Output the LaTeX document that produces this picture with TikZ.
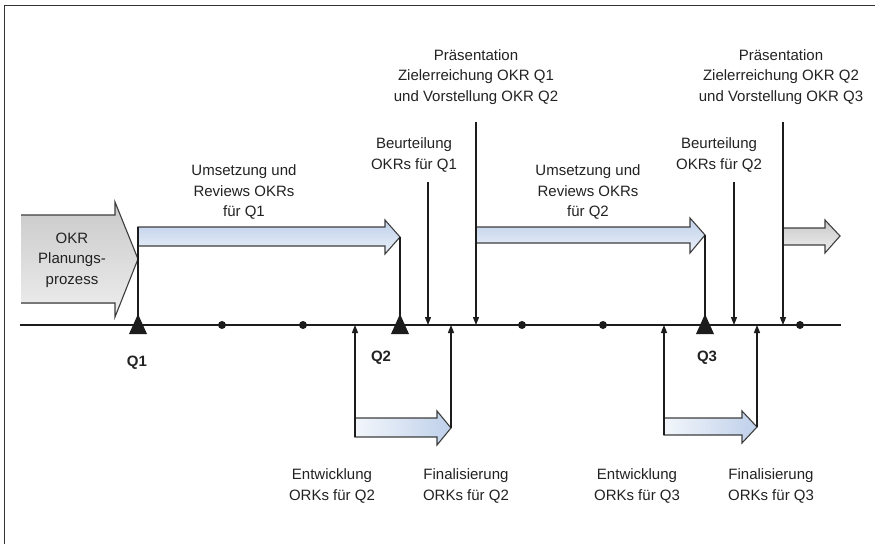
\documentclass[tikz,border=0pt]{standalone}
\usepackage{fontspec}
\setmainfont{Liberation Sans}
\usetikzlibrary{arrows.meta}

\definecolor{ink}{HTML}{1C1C1C}
\definecolor{txt}{HTML}{222222}
\definecolor{blueDark}{HTML}{BFD0EA}
\definecolor{blueLight}{HTML}{EAF0F8}
\definecolor{grayDark}{HTML}{C9C9C9}
\definecolor{grayLight}{HTML}{EEEEEE}

\tikzset{
  lbl/.style={align=center, font=\fontsize{15}{20.5}\selectfont, text=txt, inner sep=0pt},
  qlbl/.style={font=\bfseries\fontsize{15}{18}\selectfont, text=txt, inner sep=0pt},
  pin/.style={draw=ink, line width=1.2pt, -{Triangle[length=8pt,width=6pt]}},
  stem/.style={draw=ink, line width=1.2pt},
  outline/.style={draw=ink!85, line width=1.1pt, line join=miter},
  bluefat/.style={outline, top color=blueDark, bottom color=blueLight},
  bluefatside/.style={outline, left color=blueLight!60!white, right color=blueDark},
  grayfat/.style={outline, top color=grayDark, bottom color=grayLight},
  mile/.style={fill=ink},
  dot/.style={fill=ink},
}

\begin{document}
\begin{tikzpicture}[x=1pt,y=-1pt]
  \useasboundingbox (0,0) rectangle (875,544);
  \fill[white] (0,0) rectangle (875,544);

  % frame
  \draw[ink!90, line width=1.4pt] (4.5,544) -- (4.5,5.5) -- (875,5.5);

  % points on the time axis
  \coordinate (tl0) at (20,325);
  \coordinate (tl1) at (841,325);
  \coordinate (q1) at (138,325);
  \coordinate (q2) at (400,325);
  \coordinate (q3) at (705,325);
  \coordinate (b1) at (428,325);
  \coordinate (p1) at (476,325);
  \coordinate (b2) at (734,325);
  \coordinate (p2) at (783,325);
  \coordinate (e2) at (355,325);
  \coordinate (f2) at (451,325);
  \coordinate (e3) at (664,325);
  \coordinate (f3) at (757,325);

  % planning phase (open at the left)
  \fill[top color=grayDark, bottom color=grayLight]
    (21,215) -- (115,215) -- (115,202) -- (138,259) -- (115,317) -- (115,303) -- (21,303) -- cycle;
  \draw[outline] (21,215) -- (115,215) -- (115,202) -- (138,259) -- (115,317) -- (115,303) -- (21,303);
  \node[lbl] (plan) at (72,260) {OKR\\Planungs-\\prozess};

  % implementation arrows
  \path[bluefat] (138,227) -- (385,227) -- (385,220) coordinate (u1h) -- (400,237) coordinate (u1tip)
    -- (385,254) -- (385,246) -- (138,246) -- cycle;
  \coordinate (u1tail) at (138,227);
  \path[bluefat] (476,227) -- (690,227) -- (690,218) -- (705,235) coordinate (u2tip)
    -- (690,253) -- (690,243) -- (476,243) -- cycle;
  \path[grayfat] (783,228) -- (825,228) -- (825,220) -- (840,236) coordinate (u3tip)
    -- (825,253) -- (825,245) -- (783,245) -- cycle;

  % development arrows below the axis
  \path[bluefatside] (355,418) -- (437,418) -- (437,411) -- (451,428) coordinate (d2tip)
    -- (437,445) -- (437,437) -- (355,437) coordinate (d2tail) -- cycle;
  \path[bluefatside] (664,418) -- (742,418) -- (742,411) -- (757,427) coordinate (d3tip)
    -- (742,443) -- (742,435) -- (664,435) coordinate (d3tail) -- cycle;

  % time axis
  \draw[ink, line width=2pt] (tl0) -- (tl1);

  % connectors
  \draw[stem] (u1tail) -- (q1);
  \draw[stem] (u1tip) -- (q2);
  \draw[stem] (u2tip) -- (q3);
  \coordinate (b1top) at (428,182);
  \coordinate (p1top) at (476,122);
  \coordinate (b2top) at (734,182);
  \coordinate (p2top) at (783,122);
  \draw[pin] (b1top) -- (b1);
  \draw[pin] (p1top) -- (p1);
  \draw[pin] (b2top) -- (b2);
  \draw[pin] (p2top) -- (p2);
  \draw[pin] (d2tail) -- (e2);
  \draw[pin] (d2tip) -- (f2);
  \draw[pin] (d3tail) -- (e3);
  \draw[pin] (d3tip) -- (f3);

  % milestones
  \foreach \q in {q1,q2,q3}
    \fill[mile] (\q) ++(-9,9) -- ++(18,0) -- ++(-9,-20) -- cycle;
  \foreach \x in {222,303,522,603,800}
    \fill[dot] (\x,325) circle[radius=4pt];

  % labels
  \node[qlbl] (lq1) at (137,363) {Q1};
  \node[qlbl] (lq2) at (381,358) {Q2};
  \node[qlbl] (lq3) at (707,358) {Q3};

  \node[lbl] (um1) at (244,192) {Umsetzung und\\Reviews OKRs\\für Q1};
  \node[lbl] (be1) at (414,155) {Beurteilung\\OKRs für Q1};
  \node[lbl] (pr1) at (476,77) {Präsentation\\Zielerreichung OKR Q1\\und Vorstellung OKR Q2};
  \node[lbl] (um2) at (588,192) {Umsetzung und\\Reviews OKRs\\für Q2};
  \node[lbl] (be2) at (719,155) {Beurteilung\\OKRs für Q2};
  \node[lbl] (pr2) at (781,77) {Präsentation\\Zielerreichung OKR Q2\\und Vorstellung OKR Q3};

  \node[lbl] (en2) at (332,486) {Entwicklung\\ORKs für Q2};
  \node[lbl] (fi2) at (466,486) {Finalisierung\\ORKs für Q2};
  \node[lbl] (en3) at (637,486) {Entwicklung\\ORKs für Q3};
  \node[lbl] (fi3) at (771,486) {Finalisierung\\ORKs für Q3};
\end{tikzpicture}
\end{document}
